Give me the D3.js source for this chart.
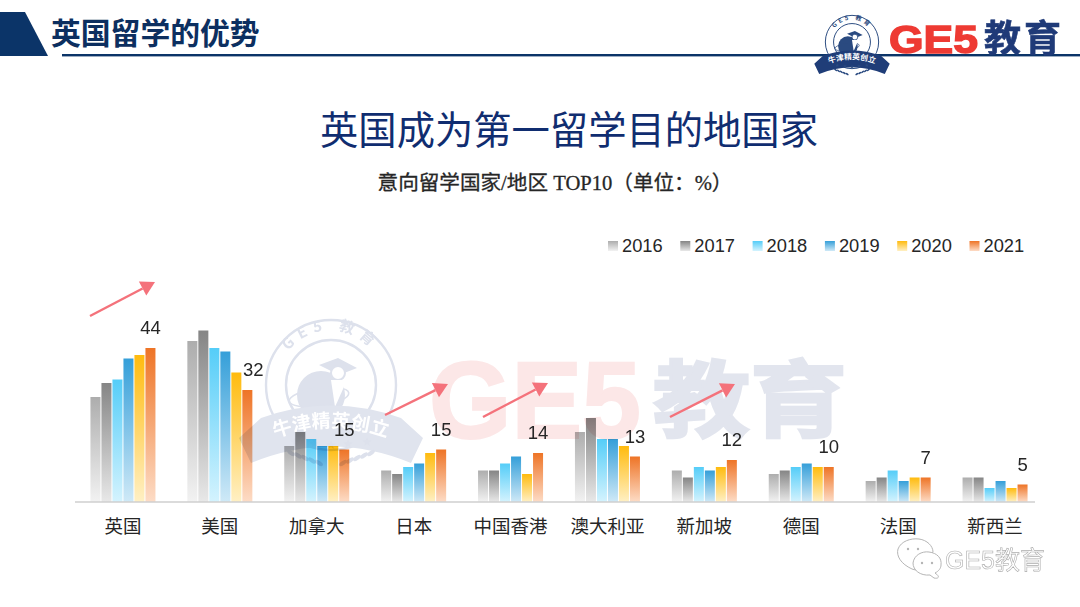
<!DOCTYPE html>
<html><head><meta charset="utf-8">
<script src="https://cdn.jsdelivr.net/npm/d3@7"></script>
<style>html,body{margin:0;padding:0;background:#fff}svg{display:block}
text{font-family:"Liberation Sans","Noto Sans CJK SC",sans-serif}</style></head>
<body><svg id="c" width="1080" height="607"></svg>
<script>
const categories=["英国","美国","加拿大","日本","中国香港","澳大利亚","新加坡","德国","法国","新西兰"];
const years=["2016","2017","2018","2019","2020","2021"];
const v2016=[30,46,16,9,9,20,9,8,6,7];
const v2017=[34,49,20,8,9,24,7,9,7,7];
const v2018=[35,44,18,10,11,18,10,10,9,4];
const v2019=[41,43,16,11,13,18,9,11,6,6];
const v2020=[42,37,16,14,8,16,10,10,7,4];
const v2021=[44,32,15,15,14,13,12,10,7,5];
const seriesValues=[v2016,v2017,v2018,v2019,v2020,v2021];
const topColors=["#adadad","#858585","#55cdf8","#359fd9","#ffbb0e","#ee7426"];
const bottomColors=["#f2f2f2","#e8e8e8","#d4f3fe","#cfe9f7","#fff0c4","#fddcc6"];

const CJK='"Noto Sans CJK SC",sans-serif';
const svg=d3.select("#c");
const defs=svg.append("defs");
topColors.forEach((c,i)=>{
  const g=defs.append("linearGradient").attr("id","g"+i).attr("x1",0).attr("y1",0).attr("x2",0).attr("y2",1);
  g.append("stop").attr("offset","0%").attr("stop-color",c);
  g.append("stop").attr("offset","100%").attr("stop-color",bottomColors[i]);
});

// header
const navy="#0b3468";
svg.append("path").attr("d","M0 12H25L48 56H0Z").attr("fill",navy);
svg.append("rect").attr("x",62).attr("y",54).attr("width",1018).attr("height",2.4).attr("fill",navy);
svg.append("text").attr("x",51).attr("y",43.5).attr("font-size",29.8).attr("font-weight",700)
  .attr("fill","#0c2f60").style("font-family",CJK).text("英国留学的优势");

// titles
svg.append("text").attr("x",569).attr("y",144).attr("text-anchor","middle").attr("font-size",38.3)
  .attr("fill","#102d70").style("font-family",CJK).text("英国成为第一留学目的地国家");
svg.append("text").attr("x",555).attr("y",190).attr("text-anchor","middle").attr("font-size",20.6)
  .attr("fill","#262626").attr("stroke","#262626").attr("stroke-width",0.3)
  .style("font-family",'"Liberation Serif","Noto Sans CJK SC",serif').text("意向留学国家/地区 TOP10（单位：%）");

// scales
const x0=d3.scaleBand().domain(categories).range([74.5,1043.5]);
const x1=d3.scaleBand().domain(years).range([-32.5,32.5]).paddingInner(0.09);
const y=d3.scaleLinear().domain([0,49]).range([502,330.5]);

// bars
const groups=svg.append("g").selectAll("g").data(categories).join("g")
  .attr("transform",d=>`translate(${x0(d)+x0.bandwidth()/2},0)`);
groups.each(function(cat,ci){
  d3.select(this).selectAll("rect").data(years.map((yr,si)=>({yr,si,v:seriesValues[si][ci]}))).join("rect")
    .attr("x",d=>x1(d.yr)).attr("width",x1.bandwidth())
    .attr("y",d=>y(d.v)).attr("height",d=>y(0)-y(d.v))
    .attr("fill",d=>`url(#g${d.si})`);
});

// axis
const axis=svg.append("g").attr("transform",`translate(0,${y(0)})`)
  .call(d3.axisBottom(x0).tickSize(0).tickPadding(18));
axis.select(".domain").attr("stroke","#cfcfcf").attr("stroke-width",1.4).attr("d","M75,0H1035");
axis.selectAll("text").attr("font-size",18.5).attr("fill","#262626").style("font-family",CJK);

// watermark + badge (multiplied over the bars)
const wm=svg.append("g").style("mix-blend-mode","multiply");
wm.append("text").attr("x",429).attr("y",438).attr("font-size",110).attr("font-weight",700)
  .attr("fill","#fce7e7").attr("stroke","#fce7e7").attr("stroke-width",2)
  .attr("textLength",212).attr("lengthAdjust","spacingAndGlyphs").text("GE5");
wm.append("text").attr("transform","translate(653,430) scale(1,0.86)").attr("font-size",97).attr("font-weight",700)
  .attr("fill","#e2e5ee").attr("stroke","#e2e5ee").attr("stroke-width",3)
  .style("font-family",CJK).text("教育");

function star(cx,cy,r){
  return d3.range(10).map(i=>{const a=-Math.PI/2+i*Math.PI/5,q=i%2?r*0.42:r;
    return [cx+q*Math.cos(a),cy+q*Math.sin(a)].join(",");}).join(" ");
}
let uid=0;
function badge(parent,cx,cy,s,ring,ribbon,ribbonText,ground){
  const id=++uid;
  const g=parent.append("g").attr("transform",`translate(${cx},${cy}) scale(${s})`);
  g.append("circle").attr("r",65).attr("fill",ground).attr("stroke",ring).attr("stroke-width",2.4);
  g.append("circle").attr("r",45).attr("fill","none").attr("stroke",ring).attr("stroke-width",2.4);
  const d=g.append("defs");
  d.append("path").attr("id",`arc${id}`).attr("d","M-49,22 A54,54 0 1 1 49,22");
  d.append("path").attr("id",`rib${id}`).attr("d","M-62,55 Q0,30 62,55");
  g.append("text").attr("font-size",15).attr("font-weight",700).attr("fill",ring).attr("letter-spacing",6)
    .style("font-family",CJK)
    .append("textPath").attr("href",`#arc${id}`).attr("startOffset","50%").attr("text-anchor","middle").text("GE5  教育");
  // globe and cap
  g.append("circle").attr("cx",-10).attr("cy",10).attr("r",24).attr("fill",ring);
  g.append("ellipse").attr("cx",-12).attr("cy",12).attr("rx",30).attr("ry",9).attr("transform","rotate(-8 -12 12)")
    .attr("fill","none").attr("stroke",ring).attr("stroke-width",1.6);
  g.append("path").attr("d","M-12,-20L7,-27L26,-17L8,-10Z").attr("fill",ring);
  g.append("circle").attr("cx",7).attr("cy",-12).attr("r",7).attr("fill",ground==="none"?"#fff":ground).attr("stroke",ring).attr("stroke-width",2);
  g.append("path").attr("d","M0,-5L16,-5L4,22").attr("fill","#fff");
  // ribbon
  g.append("path").attr("d","M-70,33Q0,8 70,33L92,53L80,78Q0,45 -80,78L-92,53Z").attr("fill",ribbon);
  g.append("text").attr("font-size",19).attr("font-weight",700).attr("fill",ribbonText).style("font-family",CJK)
    .append("textPath").attr("href",`#rib${id}`).attr("startOffset","50%").attr("text-anchor","middle").text("牛津精英创立");
  [-36,-17,0,17,36].forEach((sx,i)=>{
    g.append("polygon").attr("points",star(sx,[57,59,60,59,57][i],5)).attr("fill",ring);
  });
  [-1,1].forEach(k=>{
    d3.range(5).forEach(i=>{
      g.append("ellipse").attr("cx",k*(12+i*7)).attr("cy",78-i*2.5).attr("rx",4.5).attr("ry",2)
        .attr("transform",`rotate(${k*-35} ${k*(12+i*7)} ${78-i*2.5})`).attr("fill",ring);
    });
  });
}
badge(wm,331,385,1,"#dde1ec","#e0e4ee","#ffffff","none");

// arrows (annotations)
const arrowColor="#f4727b";
[[90,316,155,282],[385,415,448,384],[483,417,548,383],[670,417,735,384]].forEach(a=>{
  const [x1a,y1a,x2a,y2a]=a,ang=Math.atan2(y2a-y1a,x2a-x1a),L=14,W=8;
  const bx=x2a-L*Math.cos(ang),by=y2a-L*Math.sin(ang);
  svg.append("line").attr("x1",x1a).attr("y1",y1a).attr("x2",bx).attr("y2",by)
    .attr("stroke",arrowColor).attr("stroke-width",2.4);
  svg.append("polygon").attr("fill",arrowColor).attr("points",[
    [x2a,y2a],[bx-W*Math.sin(ang),by+W*Math.cos(ang)],[bx+W*Math.sin(ang),by-W*Math.cos(ang)]
  ].join(" "));
});

// data labels for 2021
svg.append("g").selectAll("text").data(categories).join("text")
  .attr("x",(d,i)=>x0(d)+x0.bandwidth()/2+x1("2021")+x1.bandwidth()/2+(i===1?6:0))
  .attr("y",(d,i)=>y(v2021[i])-14).attr("text-anchor","middle")
  .attr("font-size",18.5).attr("fill","#262626").text((d,i)=>v2021[i]);

// legend
const lx=d3.scalePoint().domain(years).range([608,969.5]);
const leg=svg.append("g").selectAll("g").data(years).join("g").attr("transform",d=>`translate(${lx(d)},0)`);
leg.append("rect").attr("y",241).attr("width",10).attr("height",10).attr("fill",(d,i)=>`url(#g${i})`);
leg.append("text").attr("x",14).attr("y",252).attr("font-size",18.3).attr("fill","#262626").text(d=>d);

// logo, top right
badge(svg,852,42,0.41,"#2a4a80","#1f3d78","#ffffff","#ffffff");
svg.append("text").attr("x",889).attr("y",53).attr("font-size",39).attr("font-weight",700).attr("fill","#ee3a33")
  .attr("stroke","#ee3a33").attr("stroke-width",1.4).attr("textLength",89).attr("lengthAdjust","spacingAndGlyphs").text("GE5");
svg.append("text").attr("x",984).attr("y",52).attr("font-size",37).attr("font-weight",700).attr("fill","#1f3a78")
  .attr("stroke","#1f3a78").attr("stroke-width",0.6).attr("letter-spacing",3).style("font-family",CJK).text("教育");

// WeChat mark
const wc=svg.append("g").attr("fill","#fff").attr("stroke","#b5b5b5").attr("stroke-width",1);
wc.append("path").attr("d","M912,569C901,564 896,556 898,549C901,541 911,538 919,539C927,540 933,546 933,552L918,565L919,571Z");
wc.append("path").attr("d","M935,573C941,577 938,579 934,578L930,575C920,576 913,570 913,563C914,555 922,551 929,552C937,553 942,558 941,565C941,568 939,571 935,573Z");
[[908,549],[918,549],[922,563],[932,563]].forEach(p=>wc.append("circle").attr("cx",p[0]).attr("cy",p[1]).attr("r",1.2).attr("fill","#b5b5b5").attr("stroke","none"));
const wt=svg.append("text").attr("x",945).attr("y",569).attr("font-size",25).attr("fill","#fff").attr("stroke","#adadad").attr("stroke-width",0.6);
wt.text("GE5").append("tspan").style("font-family",CJK).text("教育");
</script></body></html>
